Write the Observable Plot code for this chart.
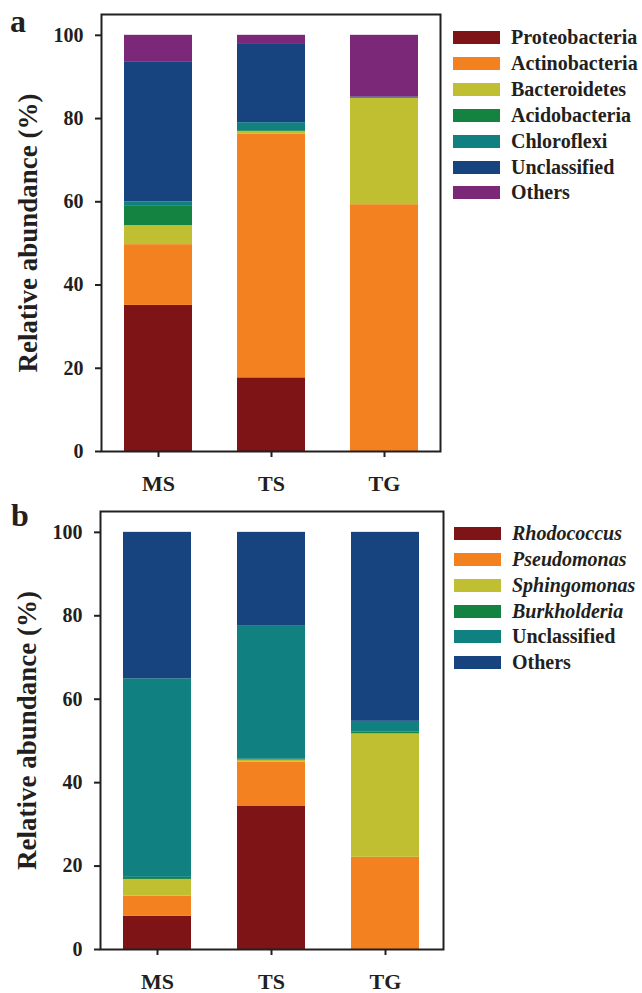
<!DOCTYPE html>
<html><head><meta charset="utf-8">
<script src="https://cdn.jsdelivr.net/npm/d3@7"></script>
<script src="https://cdn.jsdelivr.net/npm/@observablehq/plot@0.6"></script>
<style>
body{margin:0;background:#fff;font-family:"Liberation Serif","Times New Roman",serif;color:#231f20;}
#wrap{position:relative;width:642px;height:993px;overflow:hidden;}
.panel{position:absolute;left:0;}
.legend{position:absolute;left:0;top:0;font-weight:bold;font-size:20px;}
.row{position:absolute;height:26px;display:flex;align-items:center;white-space:nowrap;}
.sw{width:47px;height:13px;margin-right:11px;flex:none;}
.plabel{position:absolute;font-weight:bold;font-size:32px;line-height:1;}
</style></head><body><div id="wrap"></div>
<script>
const samples = ["MS", "TS", "TG"];

// Panel a: phyla
const phyla = ["Proteobacteria", "Actinobacteria", "Bacteroidetes", "Acidobacteria", "Chloroflexi", "Unclassified", "Others"];
const phylaColors = ["#7f1416", "#f48120", "#c0bf32", "#148241", "#108080", "#17447e", "#7c2878"];
const phylaMS = [35.1, 14.6, 4.6, 4.6, 1.1, 33.5, 6.5];
const phylaTS = [17.7, 58.5, 0.7, 0.2, 1.9, 19.0, 2.0];
const phylaTG = [0, 59.3, 25.6, 0, 0, 0.3, 14.8];

// Panel b: genera
const genera = ["Rhodococcus", "Pseudomonas", "Sphingomonas", "Burkholderia", "Unclassified", "Others"];
const generaItalic = [true, true, true, true, false, false];
const generaColors = ["#7f1416", "#f48120", "#c0bf32", "#148241", "#108080", "#17447e"];
const generaMS = [8.0, 4.8, 4.0, 0.5, 47.6, 35.1];
const generaTS = [34.4, 10.5, 0.5, 0.2, 31.9, 22.5];
const generaTG = [0, 22.1, 29.6, 0.4, 2.6, 45.3];

const yTicks = [0, 20, 40, 60, 80, 100];
const yTitle = "Relative abundance (%)";
const ink = "#231f20";

function toRows(series, valuesBySample) {
  const rows = [];
  samples.forEach((s, i) => {
    valuesBySample[i].forEach((v, j) => rows.push({sample: s, series: series[j], value: v}));
  });
  return rows;
}

function panel({series, colors, values, top, height, mt, mb, ml, mr}) {
  const data = toRows(series, values);
  const chart = Plot.plot({
    width: 642, height,
    marginTop: mt, marginBottom: mb, marginLeft: ml, marginRight: mr,
    style: {fontFamily: "'Liberation Serif','Times New Roman',serif", fontWeight: "bold", color: ink, background: "white"},
    x: {domain: samples, paddingInner: 0.4, paddingOuter: 0.2, label: null},
    y: {domain: [0, 105], label: null},
    color: {domain: series, range: colors},
    marks: [
      Plot.barY(data, {x: "sample", y: "value", fill: "series", order: series, inset: 0}),
      Plot.frame({stroke: ink, strokeWidth: 2}),
      Plot.axisY({ticks: yTicks, tickSize: 6, tickPadding: 12, fontSize: 20, strokeWidth: 2, stroke: ink, fill: ink, label: null}),
      Plot.axisX({tickSize: 6, tickPadding: 18, fontSize: 22, strokeWidth: 2, stroke: ink, fill: ink, label: null}),
      Plot.text([yTitle], {frameAnchor: "left", textAnchor: "middle", lineAnchor: "middle", rotate: -90, dx: -73, fontSize: 27, fontWeight: "bold", fill: ink})
    ]
  });
  const div = document.createElement("div");
  div.className = "panel";
  div.style.top = top + "px";
  div.appendChild(chart);
  return div;
}

function legend(series, colors, italic, firstCenter, swLeft) {
  const lg = document.createElement("div");
  lg.className = "legend";
  series.forEach((s, i) => {
    const r = document.createElement("div");
    r.className = "row";
    r.style.left = swLeft + "px";
    r.style.top = (firstCenter - 13 + i * 25.9) + "px";
    const sw = document.createElement("div");
    sw.className = "sw";
    sw.style.background = colors[i];
    const t = document.createElement("span");
    t.textContent = s;
    if (italic && italic[i]) t.style.fontStyle = "italic";
    r.appendChild(sw); r.appendChild(t);
    lg.appendChild(r);
  });
  return lg;
}

const wrap = document.getElementById("wrap");
wrap.appendChild(panel({series: phyla, colors: phylaColors, values: [phylaMS, phylaTS, phylaTG],
  top: 0, height: 496, mt: 14, mb: 45, ml: 101, mr: 202}));
wrap.appendChild(panel({series: genera, colors: generaColors, values: [generaMS, generaTS, generaTG],
  top: 496, height: 497, mt: 15, mb: 44, ml: 100, mr: 199}));
wrap.appendChild(legend(phyla, phylaColors, null, 37.5, 453));
wrap.appendChild(legend(genera, generaColors, generaItalic, 533.3, 454));

const la = document.createElement("div"); la.className = "plabel"; la.textContent = "a";
la.style.left = "10px"; la.style.top = "5px"; wrap.appendChild(la);
const lb = document.createElement("div"); lb.className = "plabel"; lb.textContent = "b";
lb.style.left = "11px"; lb.style.top = "499px"; wrap.appendChild(lb);
</script>
</body></html>
